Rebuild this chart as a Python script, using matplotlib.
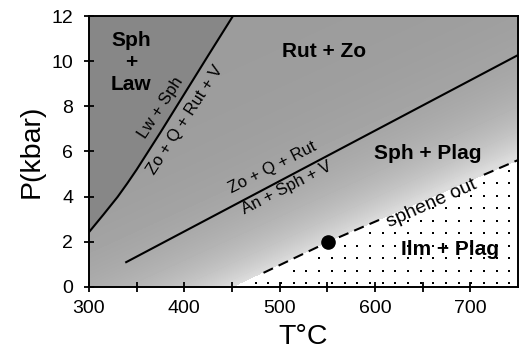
import numpy as np
import matplotlib
matplotlib.use("Agg")
import matplotlib.pyplot as plt

plt.rcParams['font.family'] = ['Liberation Sans', 'DejaVu Sans']

# reaction curves (T in C, P in kbar)
lw_T = [300, 315, 330, 340, 350, 375, 400, 425, 451]
lw_P = [2.43, 3.2, 3.99, 4.58, 5.2, 6.85, 8.55, 10.25, 12.0]
zo_T = [339, 750]
zo_P = [1.1, 10.27]
sph_T = [452, 551, 750]
sph_P = [0.0, 2.0, 5.62]
sample_T = [551]
sample_P = [2.0]

x_ticks = [300, 400, 500, 600, 700]
x_minor = [350, 450, 550, 650]
y_ticks = [0, 2, 4, 6, 8, 10, 12]

fig = plt.figure(figsize=(5.19, 3.62), dpi=100)
ax = fig.add_axes([0.1715, 0.2072, 0.8266, 0.7486])

# grey shading, lighter towards the sphene-out line
T = np.linspace(300, 750, 900)
P = np.linspace(0, 12, 540)
TT, PP = np.meshgrid(T, P)
d = (PP - (2.0 + 0.0195 * (TT - 551))) * 0.907
g = 0.61 + 0.25 * np.exp(-np.clip(d, 0, None) / 2.0)
left = PP > np.interp(TT, lw_T, lw_P, right=np.inf)
below = PP < np.interp(TT, sph_T, sph_P)
g[left] = 0.53
g[below] = 1.0
ax.imshow(g, extent=[300, 750, 0, 12], origin='lower', cmap='gray',
          vmin=0, vmax=1, aspect='auto', interpolation='nearest', zorder=0)

# dotted field below sphene out
dT = 13.3
dP = 0.553
cols = np.arange(501.5 - 16 * dT, 750, dT)
rows = np.arange(0.16, 12, dP)
CT, CP = np.meshgrid(cols, rows)
m = (CT > 302) & (CT < 748) & (CP < np.interp(CT, sph_T, sph_P) - 0.3)
ax.plot(CT[m], CP[m], 's', color='black', ms=1.5, mew=0, zorder=1)

ax.plot(lw_T, lw_P, color='black', lw=1.5, zorder=2)
ax.plot(zo_T, zo_P, color='black', lw=1.5, zorder=2)

t = np.linspace(sph_T[0], sph_T[-1], 500)
p = np.interp(t, sph_T, sph_P)
p[(t < 483) | ((t > 607) & (t < 714))] = np.nan
ax.plot(t, p, color='black', lw=1.5, linestyle=(0, (5, 3)), zorder=2)

ax.plot(sample_T, sample_P, 'o', color='black', ms=9.5, zorder=3)

bold = dict(ha='center', va='center', fontsize=15, fontweight='bold')
ax.text(344, 9.96, 'Sph\n+\nLaw', **bold)
ax.text(547, 10.44, 'Rut + Zo', **bold)
ax.text(655, 5.93, 'Sph + Plag', **bold)
ax.text(679, 1.68, 'Ilm + Plag', **bold)

small = dict(ha='center', va='center', fontsize=12, rotation_mode='anchor')
ax.text(375, 7.92, 'Lw + Sph', rotation=57, **small)
ax.text(401, 7.39, 'Zo + Q + Rut + V', rotation=57, **small)
ax.text(493, 5.3, 'Zo + Q + Rut', rotation=27, **small)
ax.text(507, 4.38, 'An + Sph + V', rotation=27, **small)
ax.text(660, 3.7, 'sphene out', ha='center', va='center', fontsize=14,
        rotation=24, rotation_mode='anchor')

ax.set_xlim(300, 750)
ax.set_ylim(0, 12)
ax.set_xticks(x_ticks)
ax.set_xticks(x_minor, minor=True)
ax.set_yticks(y_ticks)
ax.tick_params(which='both', direction='inout', length=7, width=1.3,
               labelsize=14)
ax.tick_params(axis='x', pad=6)
ax.tick_params(axis='y', pad=8)
for s in ax.spines.values():
    s.set_linewidth(1.4)

ax.set_xlabel('T°C', fontsize=20.5, labelpad=5)
ax.set_ylabel('P(kbar)', fontsize=20.5, labelpad=5)

fig.savefig('out.png', dpi=100)
